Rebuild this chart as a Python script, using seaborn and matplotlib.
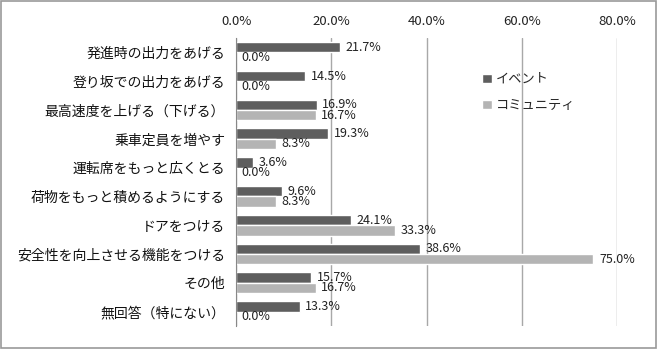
import pandas as pd
import numpy as np
import matplotlib
matplotlib.use('Agg')
import matplotlib.pyplot as plt
import seaborn as sns
from matplotlib.ticker import FuncFormatter, FixedLocator

items = ['発進時の出力をあげる', '登り坂での出力をあげる', '最高速度を上げる（下げる）',
         '乗車定員を増やす', '運転席をもっと広くとる', '荷物をもっと積めるようにする',
         'ドアをつける', '安全性を向上させる機能をつける', 'その他', '無回答（特にない）']
event = [21.7, 14.5, 16.9, 19.3, 3.6, 9.6, 24.1, 38.6, 15.7, 13.3]
community = [0.0, 0.0, 16.7, 8.3, 0.0, 8.3, 33.3, 75.0, 16.7, 0.0]
series = ['イベント', 'コミュニティ']
colors = ['#5e5e5e', '#b4b4b4']

df = pd.DataFrame({
    'item': items * 2,
    'value': event + community,
    'series': [series[0]] * len(items) + [series[1]] * len(items),
})

sns.set_style('white')
plt.rcParams['font.family'] = ['Noto Sans CJK JP', 'DejaVu Sans']

fig = plt.figure(figsize=(6.58, 3.49), dpi=100)
ax = fig.add_axes([0.359, 0.066, 0.579, 0.825])
sns.barplot(data=df, y='item', x='value', hue='series', orient='h',
            palette=colors, width=0.72, ax=ax, legend=True, saturation=1)

for cont in ax.containers:
    ax.bar_label(cont, labels=['%.1f%%' % v for v in cont.datavalues],
                 padding=4, fontsize=9, color='#222222')

ax.set_xlim(0, 80)
ax.set_xticks([0, 20, 40, 60, 80])
ax.xaxis.set_major_formatter(FuncFormatter(lambda v, p: '%.1f%%' % v))
ax.xaxis.tick_top()
ax.tick_params(axis='x', length=0, labelsize=9.5, pad=7, colors='#222222')
ax.grid(axis='x', color='#a8a8a8', linewidth=1)
ax.set_axisbelow(True)
ax.tick_params(axis='y', length=0, labelsize=10, pad=8, colors='#111111')
ax.yaxis.set_minor_locator(FixedLocator(np.arange(-0.5, len(items), 1)))
ax.tick_params(axis='y', which='minor', length=4, color='#888888', direction='out')
ax.set_xlabel('')
ax.set_ylabel('')
for s in ['top', 'right', 'bottom']:
    ax.spines[s].set_visible(False)
ax.spines['left'].set_color('#888888')

leg = ax.legend(loc='upper left', bbox_to_anchor=(0.615, 0.92), frameon=False,
                fontsize=9.5, handlelength=0.7, handleheight=0.7, handletextpad=0.3,
                labelspacing=1.0)

fig.patches.append(plt.Rectangle((0.002, 0.003), 0.995, 0.993, transform=fig.transFigure,
                                 fill=False, edgecolor='#999999', linewidth=1.2))
fig.savefig('out.png', dpi=100)
